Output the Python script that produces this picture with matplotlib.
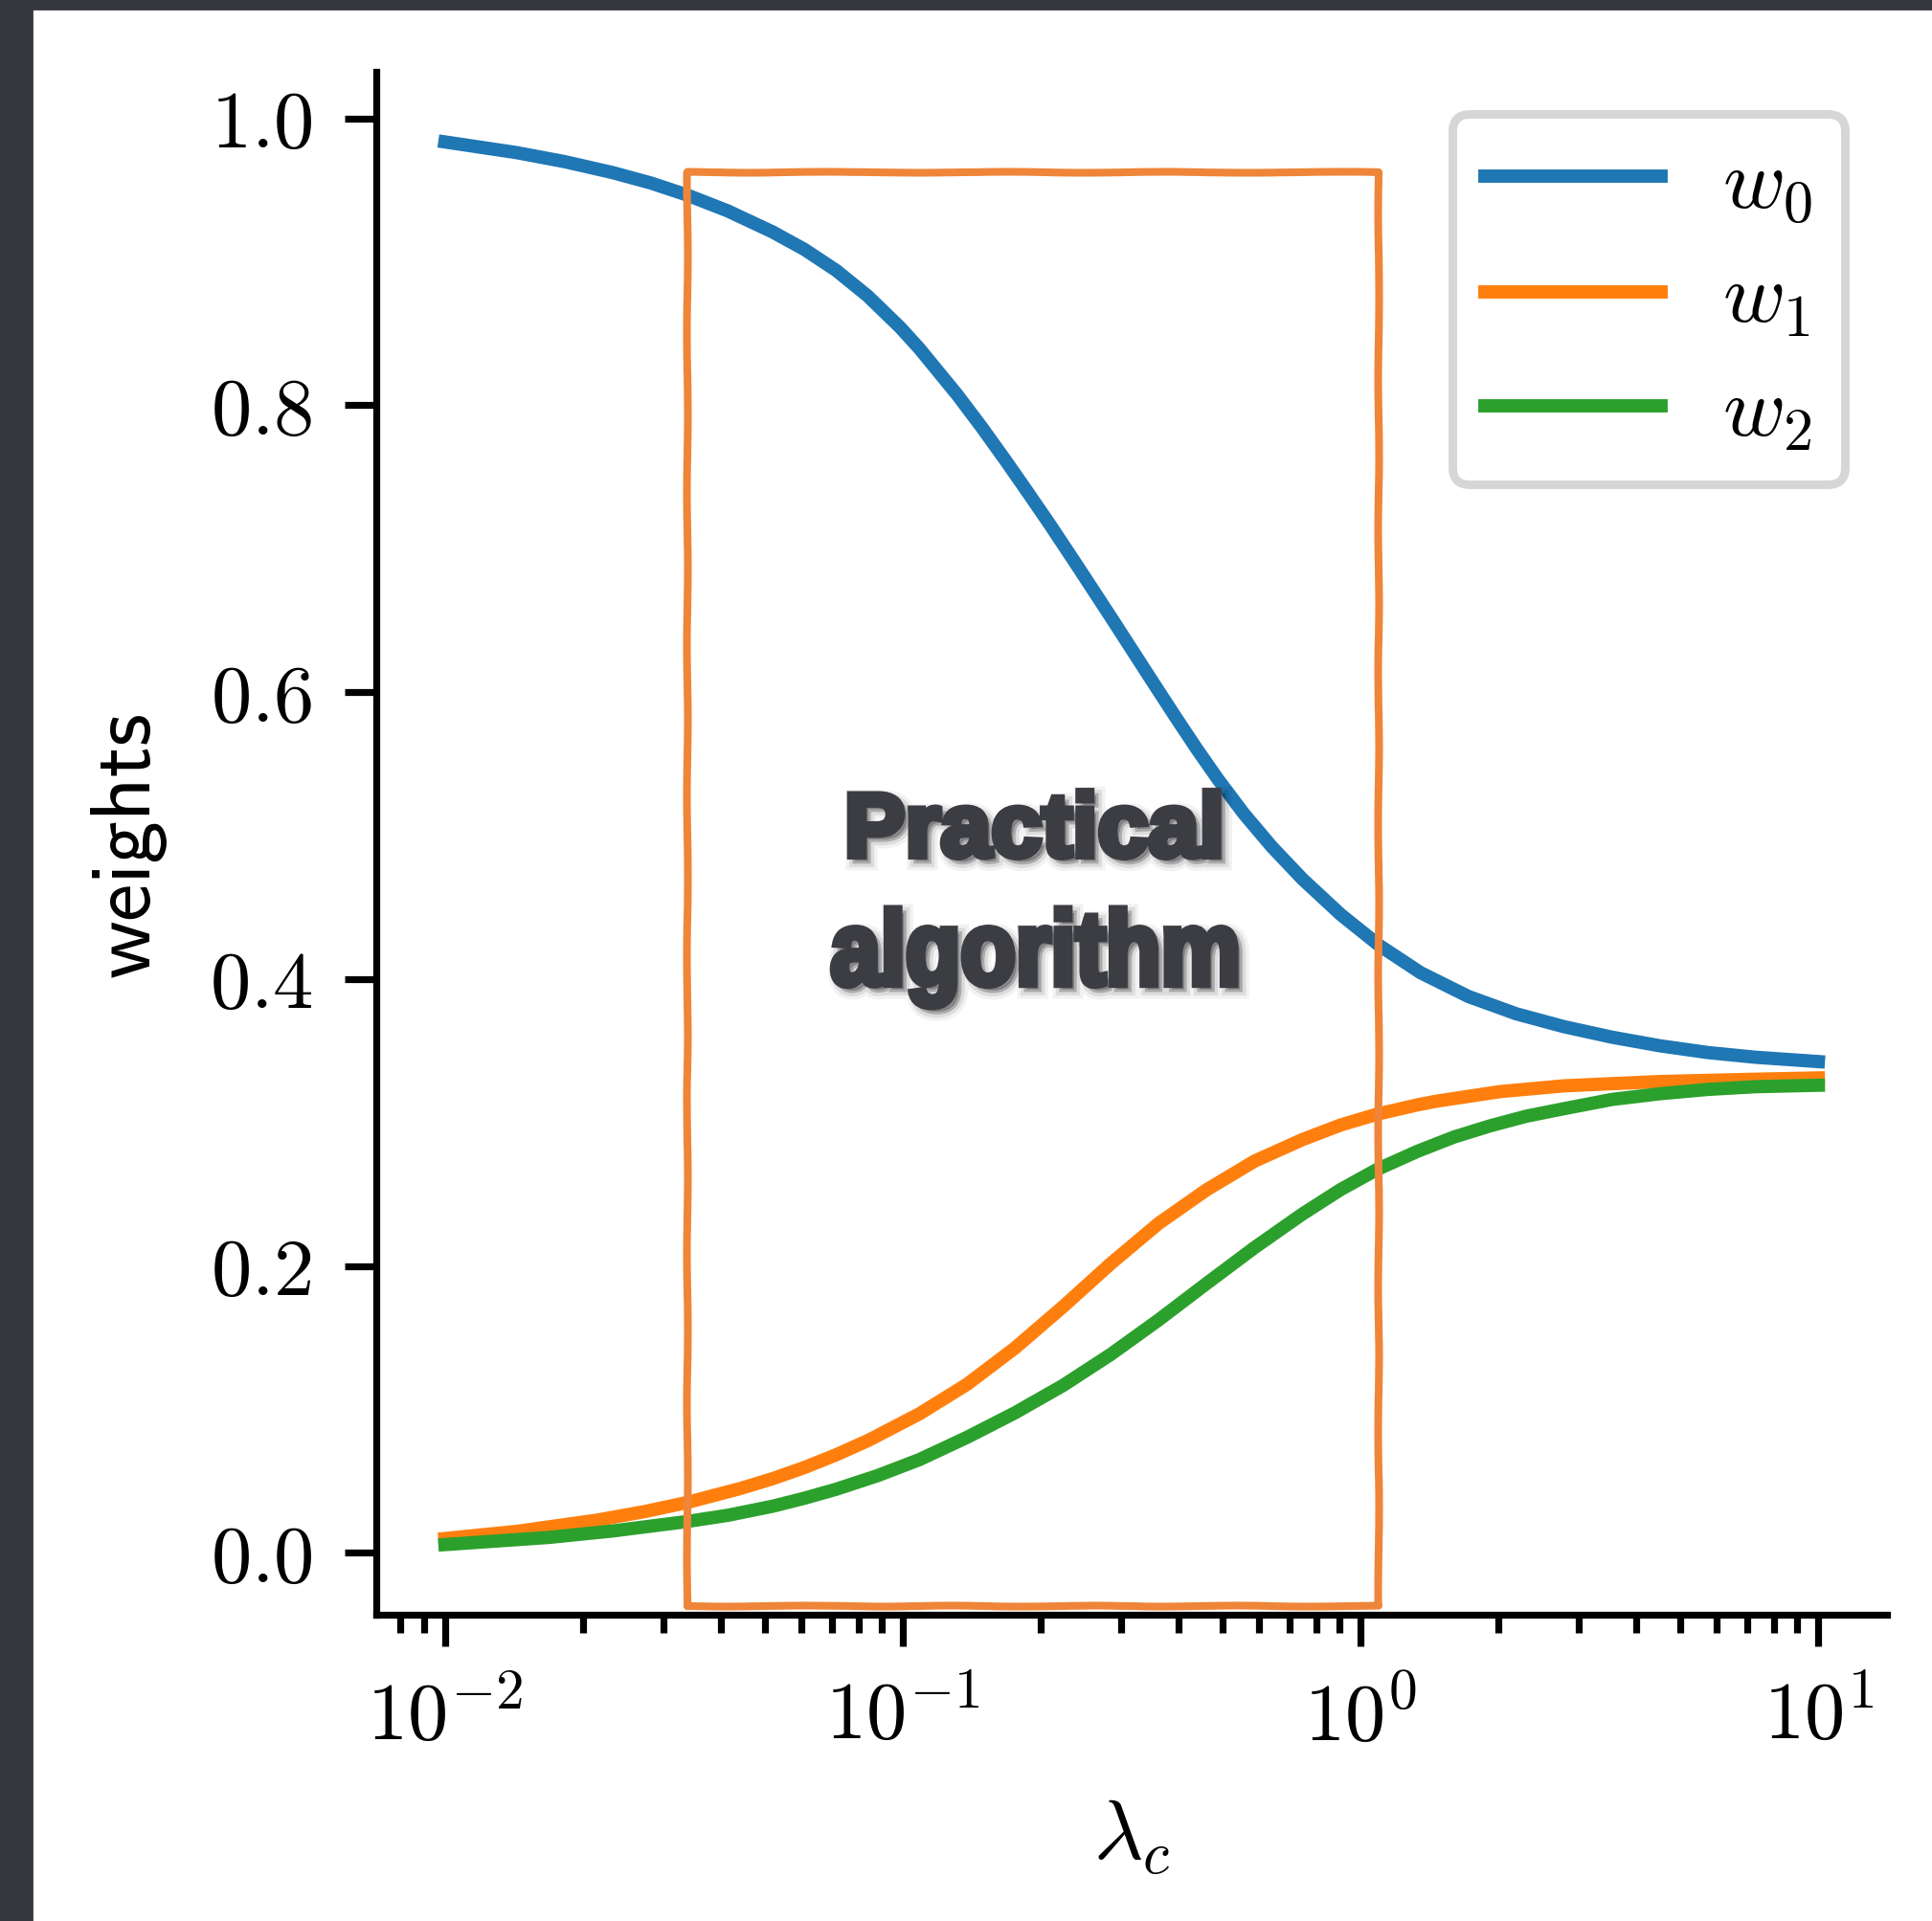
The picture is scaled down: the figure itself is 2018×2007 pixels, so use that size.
import numpy as np
import matplotlib
matplotlib.use("Agg")
import matplotlib.pyplot as plt
import matplotlib.patheffects as pe
import matplotlib.transforms as mtransforms
from matplotlib.patches import Rectangle, PathPatch
from matplotlib.textpath import TextPath
from matplotlib.font_manager import FontProperties
from matplotlib.ticker import FuncFormatter, LogLocator, FixedLocator

plt.rcParams['mathtext.fontset'] = 'cm'
plt.rcParams['font.family'] = 'sans-serif'
plt.rcParams['font.sans-serif'] = ['cmss10', 'DejaVu Sans']
plt.rcParams['axes.unicode_minus'] = False

# regularisation path of the three weights
lam_w0 = [0.01, 0.01437, 0.01829, 0.02326, 0.02821, 0.03366, 0.04148, 0.05193,
          0.06097, 0.07157, 0.08379, 0.09871, 0.1087, 0.1318, 0.1487, 0.1677,
          0.1876, 0.2100, 0.2406, 0.2880, 0.3399, 0.3927, 0.4394, 0.4879,
          0.5564, 0.6407, 0.7464, 0.9051, 1.0974, 1.352, 1.720, 2.189,
          2.785, 3.543, 4.508, 5.736, 7.298, 10.0]
w0 = [0.9836, 0.9761, 0.9698, 0.9622, 0.9549, 0.9468, 0.9355, 0.9209,
      0.9087, 0.8940, 0.8763, 0.8543, 0.8396, 0.8070, 0.7848, 0.7616,
      0.7393, 0.7165, 0.6881, 0.6500, 0.6144, 0.5836, 0.5602, 0.5394,
      0.5152, 0.4921, 0.4698, 0.4450, 0.4236, 0.4045, 0.3879, 0.3758,
      0.3668, 0.3595, 0.3535, 0.3488, 0.3455, 0.3425]

lam_w1 = [0.01, 0.01443, 0.02154, 0.02741, 0.03366, 0.04420, 0.05193, 0.06097,
          0.07157, 0.08407, 0.1087, 0.1383, 0.1760, 0.2239, 0.2848, 0.3623,
          0.4610, 0.5867, 0.7464, 0.9051, 1.0884, 1.3305, 1.465, 2.020,
          2.785, 4.508, 7.298, 10.0]
w1 = [0.0100, 0.0151, 0.0229, 0.0289, 0.0350, 0.0449, 0.0517, 0.0595,
      0.0684, 0.0784, 0.0969, 0.1176, 0.1429, 0.1716, 0.2017, 0.2297,
      0.2531, 0.2731, 0.2881, 0.2983, 0.3059, 0.3123, 0.3149, 0.3216,
      0.3256, 0.3286, 0.3302, 0.3311]

lam_w2 = [0.01, 0.01688, 0.02326, 0.03366, 0.04148, 0.05193, 0.06097, 0.07157,
          0.08820, 0.1087, 0.1383, 0.1760, 0.2239, 0.2848, 0.3623, 0.4610,
          0.5867, 0.7464, 0.9051, 1.0884, 1.3305, 1.600, 1.919, 2.300,
          2.785, 3.543, 4.508, 5.736, 7.298, 10.0]
w2 = [0.0058, 0.0108, 0.0153, 0.0218, 0.0262, 0.0325, 0.0381, 0.0444,
      0.0539, 0.0650, 0.0806, 0.0977, 0.1167, 0.1384, 0.1624, 0.1878,
      0.2128, 0.2362, 0.2533, 0.2674, 0.2799, 0.2899, 0.2977, 0.3044,
      0.3097, 0.3161, 0.3201, 0.3231, 0.3250, 0.3260]

labels = [r'$w_0$', r'$w_1$', r'$w_2$']
colors = ['#1f77b4', '#ff7f0e', '#2ca02c']

# hand-drawn box marking the practical range of lambda
box_lam = (0.0339, 1.096)
box_w = (-0.0374, 0.9626)
box_words = ['Practical', 'algorithm']
box_text_pos = (0.1946, 0.461)

W, H = 2018, 2008
DPI = 200
fig = plt.figure(figsize=(W / DPI, H / DPI), dpi=DPI)
fig.patch.set_facecolor('white')
fig.patches.append(Rectangle((0, 0), 33 / W, 1, transform=fig.transFigure,
                             color='#34383d', zorder=0))
fig.patches.append(Rectangle((0, 1 - 10 / H), 1, 10 / H, transform=fig.transFigure,
                             color='#34383d', zorder=0))

ax = fig.add_axes([393 / W, 1 - 1688 / H, (1971 - 393) / W, (1688 - 76) / H])

lw = 5
ax.plot(lam_w0, w0, color=colors[0], lw=lw, label=labels[0])
ax.plot(lam_w1, w1, color=colors[1], lw=lw, label=labels[1])
ax.plot(lam_w2, w2, color=colors[2], lw=lw, label=labels[2])
ax.set_xscale('log')
ax.get_xlim(), ax.get_ylim()

bx = [box_lam[0], box_lam[1], box_lam[1], box_lam[0], box_lam[0]]
by = [box_w[0], box_w[0], box_w[1], box_w[1], box_w[0]]
box_line, = ax.plot(bx, by, color='#ef8539', lw=2.9, solid_joinstyle='round',
                    solid_capstyle='round', zorder=4, scalex=False, scaley=False)
box_line.set_sketch_params(scale=0.5, length=220, randomness=4)

# bold condensed caption: squeeze text paths horizontally
txt_color = '#3c3d42'
word_font = FontProperties(family='Liberation Sans', weight='bold')
# (dx, dy, width, height) in pixels relative to the caption anchor
word_boxes = [(-1, 70.5, 384, 69), (-1, -69, 420, 103)]
shadow = [
    pe.Stroke(offset=(1.8, -1.8), linewidth=7, foreground='black', alpha=0.05),
    pe.Stroke(offset=(1.8, -1.8), linewidth=4.5, foreground='black', alpha=0.09),
    pe.Stroke(offset=(1.8, -1.8), linewidth=2.0, foreground='black', alpha=0.22),
    pe.Stroke(linewidth=2.5, foreground=txt_color),
    pe.Normal(),
]
ax_px = ax.transData.transform(box_text_pos)
for word, (dx, dy, wpx, hpx) in zip(box_words, word_boxes):
    path = TextPath((0, 0), word, size=100, prop=word_font)
    ext = path.get_extents()
    tr = (mtransforms.Affine2D()
          .translate(-(ext.x0 + ext.x1) / 2, -(ext.y0 + ext.y1) / 2)
          .scale(wpx / ext.width, hpx / ext.height)
          .translate(ax_px[0] + dx, ax_px[1] + dy))
    patch = PathPatch(tr.transform_path(path), facecolor=txt_color, edgecolor='none',
                      transform=mtransforms.IdentityTransform(), zorder=5)
    patch.set_path_effects(shadow)
    ax.add_artist(patch)

for side in ['top', 'right']:
    ax.spines[side].set_visible(False)
for side in ['left', 'bottom']:
    ax.spines[side].set_linewidth(2.6)

ax.yaxis.set_major_locator(FixedLocator([0.0, 0.2, 0.4, 0.6, 0.8, 1.0]))
ax.yaxis.set_major_formatter(FuncFormatter(lambda v, p: r'$%.1f$' % v))
ax.xaxis.set_major_locator(LogLocator(base=10, numticks=10))
ax.xaxis.set_minor_locator(LogLocator(base=10, subs=range(2, 10), numticks=20))
ax.xaxis.set_major_formatter(FuncFormatter(lambda v, p: r'$10^{%d}$' % round(np.log10(v))))

ax.tick_params(axis='both', which='major', length=12, width=2.6, labelsize=30.5, pad=12)
ax.tick_params(axis='x', which='minor', length=7, width=2.6)

ax.set_xlabel(r'$\lambda_c$', fontsize=32, labelpad=16)
ax.set_ylabel('weights', fontsize=32, labelpad=16)

leg = ax.legend(loc='upper right', fontsize=32, handlelength=2.07, handletextpad=0.72,
                labelspacing=0.45, borderpad=0.38, borderaxespad=0.5, fancybox=True,
                framealpha=1, edgecolor='#d6d6d6')
leg.get_frame().set_linewidth(3.2)

fig.savefig('out.png', dpi=DPI, facecolor=fig.get_facecolor())
